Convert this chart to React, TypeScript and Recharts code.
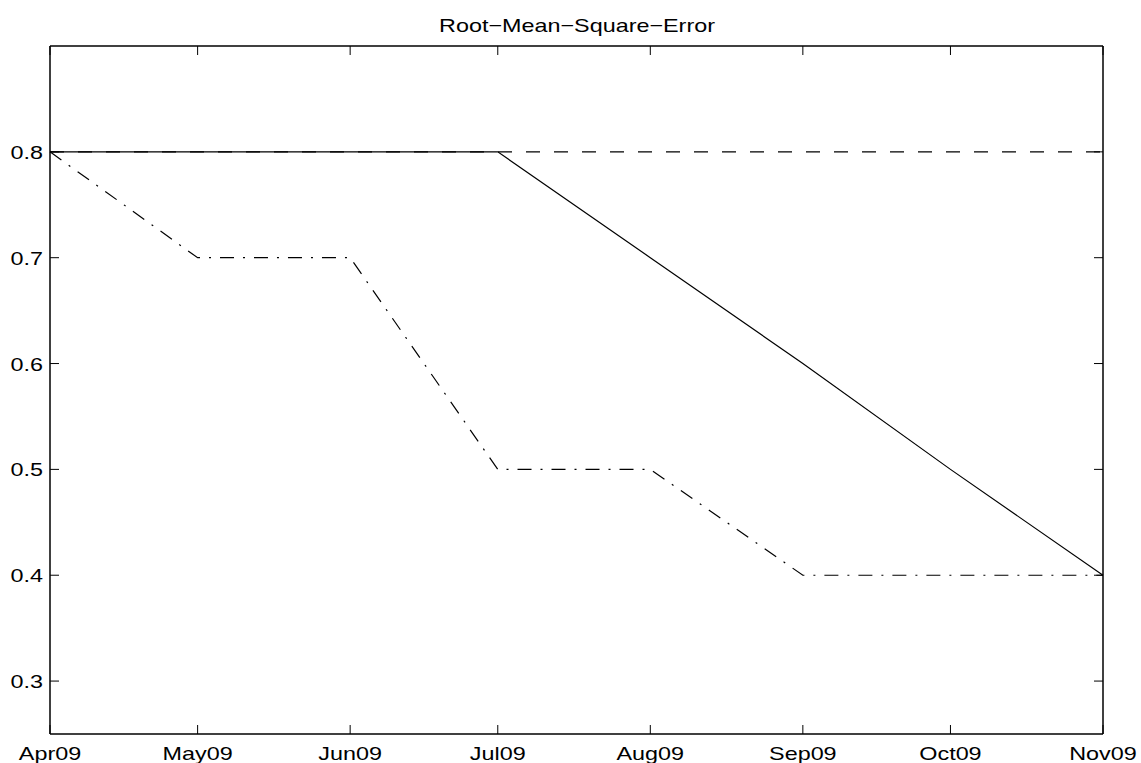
import React from 'react';
import { LineChart, Line, XAxis, YAxis } from 'recharts';

const monthLabels = ['Apr09', 'May09', 'Jun09', 'Jul09', 'Aug09', 'Sep09', 'Oct09', 'Nov09'];
const monthNumbers = [3, 4, 5, 6, 7, 8, 9, 10];
const solidRmse = [0.8, 0.8, 0.8, 0.8, 0.7, 0.6, 0.5, 0.4];
const dashedRmse = [0.8, 0.8, 0.8, 0.8, 0.8, 0.8, 0.8, 0.8];
const dashDotRmse = [0.8, 0.7, 0.7, 0.5, 0.5, 0.4, 0.4, 0.4];
const yTicks = [0.3, 0.4, 0.5, 0.6, 0.7, 0.8];
const yDomain: [number, number] = [0.25, 0.9];
const titleText = 'Root\u2212Mean\u2212Square\u2212Error';

const DAY = 86400000;
const startMs = Date.UTC(2009, monthNumbers[0], 1);
const monthDays = monthNumbers.map((m) => Math.round((Date.UTC(2009, m, 1) - startMs) / DAY));

const data = monthDays.map((d, i) => ({
  day: d,
  solid: solidRmse[i],
  dashed: dashedRmse[i],
  dashdot: dashDotRmse[i],
}));

const FONT = '"Liberation Sans", Arial, Helvetica, sans-serif';
const FS = 19;
const SX = 1.23;
const TICK = 9;

const BottomTick = (props: any) => {
  const { x, y, payload } = props;
  const idx = monthDays.indexOf(payload.value);
  return (
    <g>
      <line x1={x} x2={x} y1={y} y2={y - TICK} stroke="#000" strokeWidth={1} />
      <text
        x={0}
        y={0}
        transform={`translate(${x},${y + 26}) scale(${SX},1)`}
        textAnchor="middle"
        fontFamily={FONT}
        fontSize={FS}
        fill="#000"
      >
        {idx >= 0 ? monthLabels[idx] : ''}
      </text>
    </g>
  );
};

const TopTick = (props: any) => {
  const { x, y } = props;
  return <line x1={x} x2={x} y1={y} y2={y + TICK} stroke="#000" strokeWidth={1} />;
};

const LeftTick = (props: any) => {
  const { x, y, payload } = props;
  return (
    <g>
      <line x1={x} x2={x + TICK} y1={y} y2={y} stroke="#000" strokeWidth={1} />
      <text
        x={0}
        y={0}
        transform={`translate(${x - 7},${y + 7}) scale(${SX},1)`}
        textAnchor="end"
        fontFamily={FONT}
        fontSize={FS}
        fill="#000"
      >
        {Number(payload.value).toFixed(1)}
      </text>
    </g>
  );
};

const RightTick = (props: any) => {
  const { x, y } = props;
  return <line x1={x} x2={x - TICK} y1={y} y2={y} stroke="#000" strokeWidth={1} />;
};

const axisLineStyle = { stroke: '#000', strokeWidth: 1.5 };

export default function App() {
  return (
    <div style={{ position: 'absolute', left: 0, top: 0, width: 1141, height: 763, background: '#fff' }}>
      <LineChart
        width={1141}
        height={763}
        data={data}
        margin={{ top: 45, right: 37, bottom: 0, left: 0 }}
      >
        <XAxis
          xAxisId="bottom"
          dataKey="day"
          type="number"
          domain={[monthDays[0], monthDays[monthDays.length - 1]]}
          ticks={monthDays}
          interval={0}
          height={29}
          tickSize={0}
          tickMargin={0}
          axisLine={axisLineStyle}
          tickLine={false}
          tick={(p: any) => <BottomTick {...p} />}
        />
        <XAxis
          xAxisId="top"
          orientation="top"
          dataKey="day"
          type="number"
          domain={[monthDays[0], monthDays[monthDays.length - 1]]}
          ticks={monthDays}
          interval={0}
          height={1}
          tickSize={0}
          tickMargin={0}
          axisLine={axisLineStyle}
          tickLine={false}
          tick={(p: any) => <TopTick {...p} />}
        />
        <YAxis
          yAxisId="left"
          type="number"
          domain={yDomain}
          ticks={yTicks}
          interval={0}
          width={50}
          tickSize={0}
          tickMargin={0}
          axisLine={axisLineStyle}
          tickLine={false}
          allowDataOverflow
          tick={(p: any) => <LeftTick {...p} />}
        />
        <YAxis
          yAxisId="right"
          orientation="right"
          type="number"
          domain={yDomain}
          ticks={yTicks}
          interval={0}
          width={1}
          tickSize={0}
          tickMargin={0}
          axisLine={axisLineStyle}
          tickLine={false}
          allowDataOverflow
          tick={(p: any) => <RightTick {...p} />}
        />
        <Line
          xAxisId="bottom"
          yAxisId="left"
          type="linear"
          dataKey="dashed"
          stroke="#000"
          strokeWidth={1.2}
          strokeDasharray="14 14"
          dot={false}
          activeDot={false}
          isAnimationActive={false}
        />
        <Line
          xAxisId="bottom"
          yAxisId="left"
          type="linear"
          dataKey="dashdot"
          stroke="#000"
          strokeWidth={1.2}
          strokeDasharray="14 9 2 9"
          dot={false}
          activeDot={false}
          isAnimationActive={false}
        />
        <Line
          xAxisId="bottom"
          yAxisId="left"
          type="linear"
          dataKey="solid"
          stroke="#000"
          strokeWidth={1.2}
          dot={false}
          activeDot={false}
          isAnimationActive={false}
        />
        <Line
          xAxisId="top"
          yAxisId="right"
          type="linear"
          dataKey="solid"
          stroke="none"
          strokeWidth={0}
          dot={false}
          activeDot={false}
          isAnimationActive={false}
        />
      </LineChart>
      <svg
        width={1141}
        height={60}
        style={{ position: 'absolute', left: 0, top: 0, pointerEvents: 'none' }}
      >
        <text
          x={0}
          y={0}
          transform={`translate(577,32) scale(${SX},1)`}
          textAnchor="middle"
          fontFamily={FONT}
          fontSize={FS}
          fill="#000"
        >
          {titleText}
        </text>
      </svg>
    </div>
  );
}
